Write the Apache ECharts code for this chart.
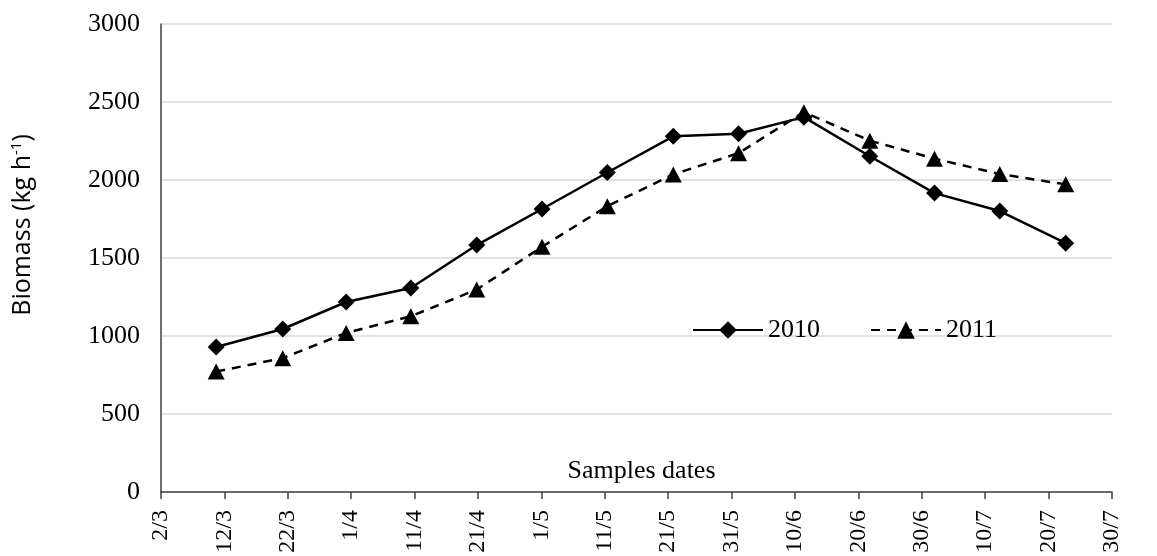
<!DOCTYPE html>
<html>
<head>
<meta charset="utf-8">
<script src="https://cdn.jsdelivr.net/npm/echarts@6/dist/echarts.min.js"></script>
<style>
	html, body { margin: 0; padding: 0; background: #fff; }
	#chart { width: 1157px; height: 556px; }
</style>
</head>
<body>
<div id="chart"></div>
<script>
// tick labels every 10 days starting at 2/3
const tickLabels = ['2/3', '12/3', '22/3', '1/4', '11/4', '21/4', '1/5', '11/5', '21/5', '31/5', '10/6', '20/6', '30/6', '10/7', '20/7', '30/7']
// sampling dates, days after 2/3
const sampleDays = [8.7, 19.2, 29.2, 39.4, 49.8, 60.1, 70.4, 80.8, 91.1, 101.4, 111.8, 122, 132.3, 142.7]
const biomass2010 = [930, 1045, 1218, 1308, 1583, 1814, 2048, 2280, 2297, 2403, 2152, 1916, 1801, 1595]
const biomass2011 = [772, 858, 1020, 1126, 1298, 1572, 1832, 2036, 2172, 2435, 2252, 2137, 2038, 1972]

const serif = '"Liberation Serif", "DejaVu Serif", serif'

const chart = echarts.init(document.getElementById('chart'))

const pairs = (ys) => sampleDays.map((d, i) => [d, ys[i]])

chart.setOption({
	animation: false,
	grid: { left: 161, right: 45, top: 24, bottom: 64 },
	legend: {
		left: 687,
		top: 312,
		itemWidth: 70,
		itemHeight: 22,
		itemGap: 50,
		textStyle: { fontFamily: serif, fontSize: 26, color: '#000' },
		data: ['2010', '2011']
	},
	xAxis: {
		type: 'value',
		min: 0,
		max: 150,
		interval: 10,
		name: 'Samples dates',
		nameLocation: 'middle',
		nameGap: -34,
		nameTextStyle: { fontFamily: serif, fontSize: 26, color: '#000', padding: [0, 0, 0, 10] },
		axisLine: { lineStyle: { color: '#404040', width: 1.5 } },
		axisTick: { show: true, length: 7, lineStyle: { color: '#404040', width: 1.5 } },
		splitLine: { show: false },
		axisLabel: {
			rotate: 90,
			margin: 18,
			fontFamily: serif,
			fontSize: 24,
			color: '#000',
			formatter: (v) => tickLabels[Math.round(v / 10)]
		}
	},
	yAxis: {
		type: 'value',
		min: 0,
		max: 3000,
		interval: 500,
		name: 'Biomass (kg h{sup|-1})',
		nameLocation: 'middle',
		nameRotate: 90,
		nameGap: 124,
		nameTextStyle: {
			fontFamily: '"Open Sans", "Noto Sans", sans-serif',
			fontSize: 25,
			color: '#000',
			padding: [0, 0, 0, 66],
			rich: {
				sup: { fontFamily: '"Open Sans", sans-serif', fontSize: 15, verticalAlign: 'top', padding: [0, 0, 13, 0], color: '#000' }
			}
		},
		axisLine: { show: true, lineStyle: { color: '#404040', width: 1.5 } },
		axisTick: { show: false },
		splitLine: { lineStyle: { color: '#d9d9d9', width: 1.5 } },
		axisLabel: { margin: 21, fontFamily: serif, fontSize: 26, color: '#000', formatter: (v) => String(v) }
	},
	series: [
		{
			name: '2010',
			type: 'line',
			data: pairs(biomass2010),
			symbol: 'diamond',
			symbolSize: [17, 17],
			itemStyle: { color: '#000' },
			lineStyle: { color: '#000', width: 2.5 },
			z: 3
		},
		{
			name: '2011',
			type: 'line',
			data: pairs(biomass2011),
			symbol: 'triangle',
			symbolSize: [17, 16],
			itemStyle: { color: '#000' },
			lineStyle: { color: '#000', width: 2.5, type: [9, 7] },
			z: 2
		}
	]
})
</script>
</body>
</html>
